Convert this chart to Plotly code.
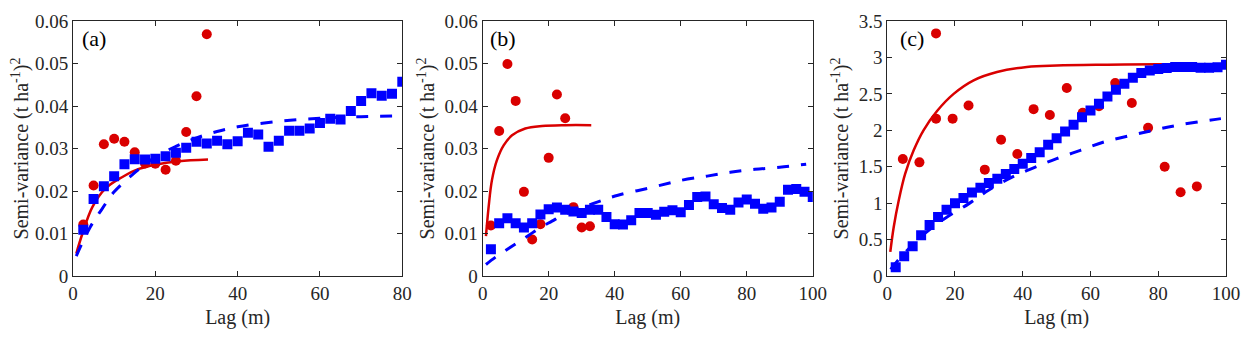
import plotly.graph_objects as go
from plotly.subplots import make_subplots

# ---- panel (a) ----
a_lag_sq = [2.5, 5, 7.5, 10, 12.5, 15, 17.5, 20, 22.5, 25, 27.5, 30, 32.5, 35, 37.5, 40,
            42.5, 45, 47.5, 50, 52.5, 55, 57.5, 60, 62.5, 65, 67.5, 70, 72.5, 75, 77.5, 80]
a_sv_sq = [0.0109, 0.0181, 0.0211, 0.0235, 0.0263, 0.0275, 0.0274, 0.0276, 0.0282, 0.0290,
           0.0302, 0.0316, 0.0312, 0.0318, 0.0310, 0.0317, 0.0337, 0.0333, 0.0304, 0.0318,
           0.0342, 0.0342, 0.0347, 0.0360, 0.0370, 0.0368, 0.0388, 0.0412, 0.0430, 0.0424,
           0.0429, 0.0457]
a_lag_dot = [2.5, 5, 7.5, 10, 12.5, 15, 17.5, 20, 22.5, 25, 27.5, 30, 32.5]
a_sv_dot = [0.0121, 0.0213, 0.0310, 0.0323, 0.0316, 0.0291, 0.0265, 0.0264, 0.0250, 0.0271,
            0.0339, 0.0423, 0.0569]
a_fit_red_x = [0.8, 2.3, 4.7, 7.9, 12, 16, 20, 25.7, 32.8]
a_fit_red_y = [0.0053, 0.0100, 0.0162, 0.0206, 0.0233, 0.0252, 0.0262, 0.0270, 0.0274]
a_fit_blue_x = [0.8, 4, 7, 10, 15, 20, 25, 30, 35, 40, 50, 60, 70, 80]
a_fit_blue_y = [0.0047, 0.0112, 0.0157, 0.0198, 0.0243, 0.0280, 0.0305, 0.0325, 0.0340,
                0.0351, 0.0364, 0.0371, 0.0375, 0.0377]

# ---- panel (b) ----
b_lag_sq = [2.5 * (i + 1) for i in range(40)]
b_sv_sq = [0.0063, 0.0124, 0.0136, 0.0124, 0.0114, 0.0124, 0.0145, 0.0157, 0.0161, 0.0156,
           0.0152, 0.0148, 0.0156, 0.0156, 0.0139, 0.0122, 0.0121, 0.0131, 0.0148, 0.0148,
           0.0144, 0.0151, 0.0155, 0.0150, 0.0167, 0.0186, 0.0187, 0.0169, 0.0160, 0.0156,
           0.0173, 0.0180, 0.0170, 0.0158, 0.0161, 0.0175, 0.0203, 0.0205, 0.0198, 0.0186]
b_lag_dot = [2.5, 5, 7.5, 10, 12.5, 15, 17.5, 20, 22.5, 25, 27.5, 30, 32.5]
b_sv_dot = [0.0119, 0.0341, 0.0499, 0.0412, 0.0198, 0.0086, 0.0122, 0.0278, 0.0427, 0.0371,
            0.0162, 0.0114, 0.0117]
b_fit_red_x = [1.0, 1.8, 2.8, 4.3, 6.4, 8.9, 12.9, 18, 25, 32.9]
b_fit_red_y = [0.0094, 0.0162, 0.0225, 0.0272, 0.0308, 0.0331, 0.0347, 0.0353, 0.0355, 0.0355]
b_fit_blue_x = [1, 4, 7.5, 10.5, 14, 17.5, 21, 24, 28, 34, 41, 51, 60, 68, 75, 82.5, 90, 98]
b_fit_blue_y = [0.0027, 0.0045, 0.0063, 0.0078, 0.0096, 0.0114, 0.0129, 0.0142, 0.0155,
                0.0172, 0.0190, 0.0208, 0.0225, 0.0235, 0.0244, 0.0251, 0.0256, 0.0263]

# ---- panel (c) ----
c_lag_sq = [2.5 * (i + 1) for i in range(40)]
c_sv_sq = [0.12, 0.27, 0.41, 0.56, 0.70, 0.81, 0.91, 1.00, 1.07, 1.145, 1.21, 1.275, 1.335,
           1.40, 1.47, 1.54, 1.62, 1.70, 1.80, 1.89, 1.985, 2.075, 2.18, 2.27, 2.365, 2.465,
           2.555, 2.64, 2.72, 2.785, 2.82, 2.84, 2.855, 2.87, 2.87, 2.87, 2.86, 2.86, 2.865, 2.90]
c_lag_dot = [4.6, 9.5, 14.4, 14.4, 19.3, 24.0, 28.8, 33.6, 38.4, 43.2, 48.0, 53.0, 57.7, 62.5,
             67.3, 72.2, 77.0, 81.9, 86.6, 91.4]
c_sv_dot = [1.606, 1.56, 3.33, 2.16, 2.16, 2.34, 1.46, 1.87, 1.675, 2.29, 2.21, 2.58, 2.24,
            2.33, 2.65, 2.375, 2.035, 1.50, 1.15, 1.23]
c_fit_red_x = [0.9, 1.9, 3.4, 5.3, 7.8, 10.7, 14.7, 19.6, 25.5, 32.4, 41.2, 50, 65, 80, 91.8]
c_fit_red_y = [0.33, 0.67, 1.04, 1.405, 1.725, 2.0, 2.265, 2.50, 2.686, 2.80, 2.87, 2.89,
               2.90, 2.905, 2.905]
c_fit_blue_x = [1, 4, 11, 17, 24, 30, 37, 45, 50, 57, 64, 72, 79.5, 87, 97, 98.5]
c_fit_blue_y = [0.09, 0.26, 0.58, 0.79, 0.99, 1.18, 1.36, 1.52, 1.61, 1.725, 1.84, 1.93,
                2.01, 2.08, 2.15, 2.16]

panels = [
    (a_lag_dot, a_sv_dot, a_fit_red_x, a_fit_red_y, a_fit_blue_x, a_fit_blue_y, a_lag_sq, a_sv_sq),
    (b_lag_dot, b_sv_dot, b_fit_red_x, b_fit_red_y, b_fit_blue_x, b_fit_blue_y, b_lag_sq, b_sv_sq),
    (c_lag_dot, c_sv_dot, c_fit_red_x, c_fit_red_y, c_fit_blue_x, c_fit_blue_y, c_lag_sq, c_sv_sq),
]
labels = ['(a)', '(b)', '(c)']
x_ranges = [[0, 80], [0, 100], [0, 100]]
y_ranges = [[0, 0.06], [0, 0.06], [0, 3.5]]
y_dticks = [0.01, 0.01, 0.5]
x_domains = [[0, 0.2856], [0.3553, 0.6416], [0.7062, 1.0]]
label_x = [0.02, 0.017, 0.031]

RED = '#d90000'
BLUE = '#0000ff'
AX = '#262626'
FONT = 'Liberation Serif'

fig = make_subplots(rows=1, cols=3)

for i, (dx, dy, rx, ry, bx, by, sx, sy) in enumerate(panels):
    col = i + 1
    fig.add_trace(go.Scatter(x=dx, y=dy, mode='markers',
                             marker=dict(symbol='circle', size=10, color=RED)), row=1, col=col)
    fig.add_trace(go.Scatter(x=rx, y=ry, mode='lines', line=dict(color=RED, width=2.5, shape='spline')),
                  row=1, col=col)
    fig.add_trace(go.Scatter(x=bx, y=by, mode='lines',
                             line=dict(color=BLUE, width=3, dash='12px,12px', shape='spline')),
                  row=1, col=col)
    fig.add_trace(go.Scatter(x=sx, y=sy, mode='markers',
                             marker=dict(symbol='square', size=10, color=BLUE)), row=1, col=col)

    fig.update_xaxes(range=x_ranges[i], domain=x_domains[i], dtick=20, row=1, col=col,
                     title=dict(text='Lag (m)', font=dict(size=20, family=FONT, color=AX), standoff=7))
    fig.update_yaxes(range=y_ranges[i], dtick=y_dticks[i], row=1, col=col,
                     title=dict(text='Semi-variance (t ha<sup>-1</sup>)<sup>2</sup>',
                                font=dict(size=20, family=FONT, color=AX), standoff=4))

    xr = 'x domain' if i == 0 else 'x%d domain' % col
    yr = 'y domain' if i == 0 else 'y%d domain' % col
    fig.add_annotation(text=labels[i], xref=xr, yref=yr, x=label_x[i], y=0.932,
                       xanchor='left', yanchor='middle', showarrow=False,
                       font=dict(size=22, family=FONT, color='black'))

fig.update_xaxes(showgrid=False, zeroline=False, showline=True, linecolor=AX, linewidth=1,
                 mirror='ticks', ticks='inside', ticklen=5, tickcolor=AX, automargin=False,
                 tickfont=dict(size=19, family=FONT, color=AX))
fig.update_yaxes(showgrid=False, zeroline=False, showline=True, linecolor=AX, linewidth=1,
                 mirror='ticks', ticks='inside', ticklen=5, tickcolor=AX, automargin=False,
                 tickfont=dict(size=19, family=FONT, color=AX))

# page body adds ~8px offset, so the figure is a bit smaller than the window
fig.update_layout(width=1242, height=336, showlegend=False,
                  paper_bgcolor='white', plot_bgcolor='white',
                  font=dict(family=FONT, color=AX),
                  margin=dict(l=65, r=24, t=13, b=68))

fig.write_html("out.html")
